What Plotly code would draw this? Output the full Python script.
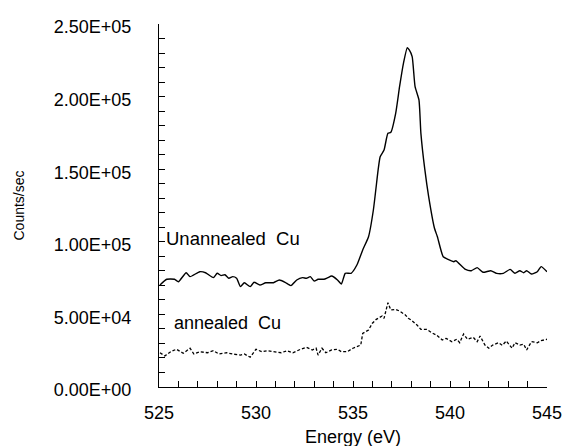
import plotly.graph_objects as go

# Unannealed Cu spectrum (energy eV, counts/sec)
unann_e = [525.05, 525.4, 525.8, 526.0, 526.4, 526.6, 527.1, 527.4, 527.8, 528.0, 528.2, 528.4,
           528.6, 528.8, 529.0, 529.2, 529.4, 529.7, 529.9, 530.2, 530.5, 530.9, 531.2, 531.5,
           531.8, 532.1, 532.4, 532.6, 532.8, 533.0, 533.2, 533.5, 533.7, 533.9, 534.2, 534.4,
           534.6, 534.9, 535.2, 535.5, 535.8, 536.05, 536.3, 536.4, 536.6, 536.8, 536.95, 537.2,
           537.4, 537.6, 537.8, 537.9, 538.05, 538.2, 538.4, 538.5, 538.7, 538.9, 539.2, 539.35,
           539.65, 539.9, 540.2, 540.3, 540.8, 541.1, 541.4, 541.7, 542.1, 542.4, 542.75, 543.1,
           543.35, 543.6, 543.8, 543.95, 544.2, 544.5, 544.7, 545.0]
unann_c = [70200, 74200, 74200, 72500, 78700, 76000, 79400, 78700, 75300, 78300, 76700, 77300,
           74900, 76000, 74900, 69100, 71800, 69100, 72100, 70200, 71800, 71800, 73700, 72100,
           69800, 73700, 75300, 74900, 76000, 73000, 74200, 74200, 75300, 76400, 73700, 70900,
           78300, 78300, 84000, 94400, 103500, 121900, 150000, 158600, 163200, 174700, 175400, 188500,
           206800, 222900, 233700, 232100, 227500, 206800, 197700, 174700, 150000, 131100, 109300, 103500,
           89700, 87900, 86300, 87000, 81000, 80100, 82200, 79000, 80100, 78300, 78300, 81000,
           78300, 80100, 78700, 80100, 77800, 79400, 82900, 79400]

# Annealed Cu spectrum
ann_e = [525.05, 525.3, 525.6, 525.9, 526.25, 526.6, 526.8, 527.1, 527.5, 527.8, 528.1, 528.5,
         528.8, 529.2, 529.4, 529.7, 530.0, 530.3, 530.6, 531.0, 531.3, 531.6, 531.9, 532.3,
         532.6, 532.9, 533.1, 533.2, 533.4, 533.6, 533.9, 534.2, 534.4, 534.7, 535.0, 535.4,
         535.5, 535.8, 536.0, 536.2, 536.5, 536.6, 536.8, 536.95, 537.2, 537.4, 537.7, 537.85,
         538.0, 538.3, 538.5, 538.8, 539.05, 539.3, 539.6, 539.8, 540.1, 540.35, 540.5, 540.7,
         540.9, 541.2, 541.4, 541.55, 541.8, 542.0, 542.2, 542.5, 542.7, 542.9, 543.2, 543.35,
         543.6, 543.8, 543.95, 544.2, 544.5, 544.7, 545.0]
ann_c = [23600, 21400, 24300, 26000, 23200, 26700, 22700, 24300, 23600, 25000, 22700, 23600,
         22700, 22000, 22700, 20500, 26000, 24300, 25000, 24300, 23600, 25000, 23600, 26000,
         27300, 25500, 26700, 22000, 26700, 23600, 25500, 26000, 24300, 24300, 26700, 28900,
         36900, 39300, 43900, 46600, 48900, 47300, 58000, 53000, 53500, 52300, 49600, 47300,
         46100, 42700, 39700, 39700, 37400, 35800, 32400, 33500, 31200, 32900, 30500, 36500,
         32900, 34200, 31200, 35100, 28900, 26700, 28900, 30500, 28700, 31700, 26700, 30500,
         28900, 29400, 25500, 31200, 30500, 31900, 32900]

y_tickvals = [0, 50000, 100000, 150000, 200000, 250000]
y_ticktext = ["0.00E+00", "5.00E+04", "1.00E+05", "1.50E+05", "2.00E+05", "2.50E+05"]
x_tickvals = [525, 530, 535, 540, 545]

FONT = "Arial, Liberation Sans, sans-serif"

fig = go.Figure()
fig.add_trace(go.Scatter(x=unann_e, y=unann_c, mode="lines",
                         line=dict(color="black", width=1.4, shape="spline", smoothing=0.5),
                         name="Unannealed Cu"))
fig.add_trace(go.Scatter(x=ann_e, y=ann_c, mode="lines",
                         line=dict(color="black", width=1.3, dash="3px,2px"),
                         name="annealed Cu"))

fig.update_layout(
    template="none",
    width=564, height=446,
    margin=dict(l=159, r=17, t=24, b=59),
    paper_bgcolor="white", plot_bgcolor="white",
    showlegend=False,
    font=dict(family=FONT, size=18, color="black"),
)
fig.update_xaxes(range=[525, 545], tickmode="array", tickvals=x_tickvals, showgrid=False, zeroline=False,
                 automargin=False, showline=True, linecolor="black", linewidth=1.3,
                 ticks="inside", ticklen=6, tickcolor="black", tickwidth=1.3,
                 minor=dict(tickmode="linear", dtick=1, tick0=525, ticks="inside", ticklen=6,
                            tickcolor="black", tickwidth=1.3, showgrid=False),
                 tickfont=dict(size=18, family=FONT), ticklabelstandoff=9)
fig.update_yaxes(range=[0, 250000], tickmode="array", tickvals=y_tickvals, ticktext=y_ticktext, showgrid=False,
                 zeroline=False, automargin=False, showline=True, linecolor="black", linewidth=1.3,
                 ticks="inside", ticklen=6, tickcolor="black", tickwidth=1.3,
                 minor=dict(tickmode="linear", dtick=10000, tick0=0, ticks="inside", ticklen=6,
                            tickcolor="black", tickwidth=1.3, showgrid=False),
                 tickfont=dict(size=18, family=FONT), ticklabelstandoff=23, ticklabelshift=3)

fig.add_annotation(text="Energy (eV)", xref="paper", yref="paper", x=0.5, y=0,
                   yshift=-50, showarrow=False, font=dict(size=18, family=FONT),
                   xanchor="center", yanchor="middle")
fig.add_annotation(text="Counts/sec", xref="paper", yref="paper", x=0, y=0.5,
                   xshift=-141, showarrow=False, textangle=-90, font=dict(size=14, family=FONT),
                   xanchor="center", yanchor="middle")
fig.add_annotation(text="Unannealed\u00a0 Cu", xref="x", yref="y", x=525.25, y=102000,
                   showarrow=False, xanchor="left", yanchor="middle", font=dict(size=18.5, family=FONT))
fig.add_annotation(text="annealed\u00a0 Cu", xref="x", yref="y", x=525.65, y=44000,
                   showarrow=False, xanchor="left", yanchor="middle", font=dict(size=18, family=FONT))

fig.write_html("out.html", config={"displayModeBar": False},
               post_script="document.body.style.margin='0';document.body.style.overflow='hidden';")
